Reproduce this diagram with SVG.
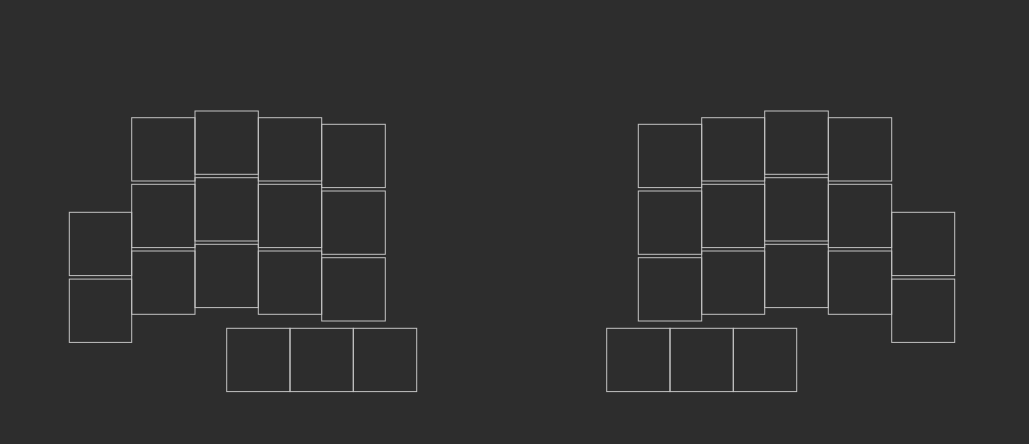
<svg xmlns="http://www.w3.org/2000/svg" width="1029" height="444" viewBox="0 0 1029 444">
<style>
.k{fill:none;stroke:#c4c4c4;stroke-width:1}
</style>
<rect width="1029" height="444" fill="#2d2d2d"/>
<g id="left-half">
<g id="L-c0-r1"><rect class="k" x="69.3" y="212.3" width="62.4" height="63.3"/></g>
<g id="L-c0-r2"><rect class="k" x="69.3" y="279.1" width="62.4" height="63.3"/></g>
<g id="L-c1-r0"><rect class="k" x="131.7" y="117.7" width="63.3" height="63.3"/></g>
<g id="L-c1-r1"><rect class="k" x="131.7" y="184.3" width="63.3" height="63.3"/></g>
<g id="L-c1-r2"><rect class="k" x="131.7" y="251" width="63.3" height="63.3"/></g>
<g id="L-c2-r0"><rect class="k" x="195" y="111" width="63.3" height="63.3"/></g>
<g id="L-c2-r1"><rect class="k" x="195" y="177.7" width="63.3" height="63.3"/></g>
<g id="L-c2-r2"><rect class="k" x="195" y="244.3" width="63.3" height="63.3"/></g>
<g id="L-c3-r0"><rect class="k" x="258.3" y="117.7" width="63.4" height="63.3"/></g>
<g id="L-c3-r1"><rect class="k" x="258.3" y="184.3" width="63.4" height="63.3"/></g>
<g id="L-c3-r2"><rect class="k" x="258.3" y="251" width="63.4" height="63.3"/></g>
<g id="L-c4-r0"><rect class="k" x="321.7" y="124.3" width="63.6" height="63.3"/></g>
<g id="L-c4-r1"><rect class="k" x="321.7" y="191" width="63.6" height="63.3"/></g>
<g id="L-c4-r2"><rect class="k" x="321.7" y="257.7" width="63.6" height="63.3"/></g>
<g id="L-t0"><rect class="k" x="226.7" y="328.3" width="63.3" height="63.3"/></g>
<g id="L-t1"><rect class="k" x="290" y="328.3" width="63.3" height="63.3"/></g>
<g id="L-t2"><rect class="k" x="353.3" y="328.3" width="63.4" height="63.3"/></g>
</g>
<g id="right-half">
<g id="R-c4-r1"><rect class="k" x="891.7" y="212.3" width="63" height="63.3"/></g>
<g id="R-c4-r2"><rect class="k" x="891.7" y="279.1" width="63" height="63.3"/></g>
<g id="R-c3-r0"><rect class="k" x="828.3" y="117.7" width="63.4" height="63.3"/></g>
<g id="R-c3-r1"><rect class="k" x="828.3" y="184.3" width="63.4" height="63.3"/></g>
<g id="R-c3-r2"><rect class="k" x="828.3" y="251" width="63.4" height="63.3"/></g>
<g id="R-c2-r0"><rect class="k" x="764.7" y="111" width="63.6" height="63.3"/></g>
<g id="R-c2-r1"><rect class="k" x="764.7" y="177.7" width="63.6" height="63.3"/></g>
<g id="R-c2-r2"><rect class="k" x="764.7" y="244.3" width="63.6" height="63.3"/></g>
<g id="R-c1-r0"><rect class="k" x="701.7" y="117.7" width="63" height="63.3"/></g>
<g id="R-c1-r1"><rect class="k" x="701.7" y="184.3" width="63" height="63.3"/></g>
<g id="R-c1-r2"><rect class="k" x="701.7" y="251" width="63" height="63.3"/></g>
<g id="R-c0-r0"><rect class="k" x="638.3" y="124.3" width="63.4" height="63.3"/></g>
<g id="R-c0-r1"><rect class="k" x="638.3" y="191" width="63.4" height="63.3"/></g>
<g id="R-c0-r2"><rect class="k" x="638.3" y="257.7" width="63.4" height="63.3"/></g>
<g id="R-t0"><rect class="k" x="606.7" y="328.3" width="63.3" height="63.3"/></g>
<g id="R-t1"><rect class="k" x="670" y="328.3" width="63.3" height="63.3"/></g>
<g id="R-t2"><rect class="k" x="733.3" y="328.3" width="63.4" height="63.3"/></g>
</g>
</svg>
